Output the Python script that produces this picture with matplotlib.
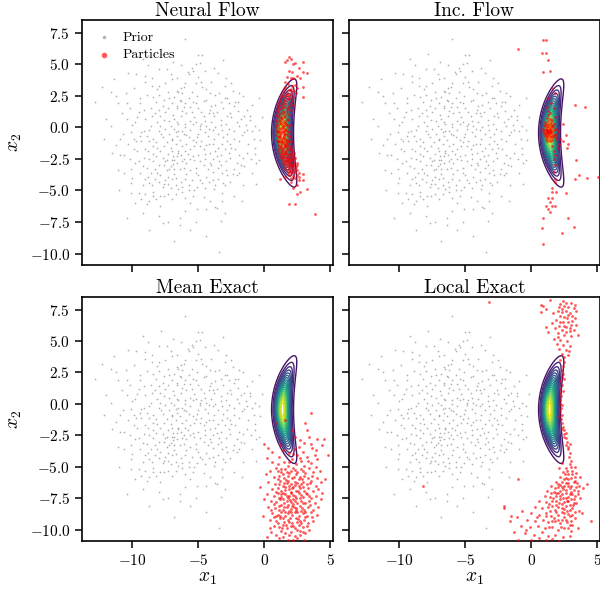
import numpy as np
import matplotlib
matplotlib.use("Agg")
import matplotlib.pyplot as plt

plt.rcParams.update({
    "font.family": "serif",
    "font.serif": ["cmr10"],
    "mathtext.fontset": "cm",
    "axes.formatter.use_mathtext": True,
    "axes.unicode_minus": True,
})

# ---------------------------------------------------------------- data
titles = ["Neural Flow", "Inc. Flow", "Mean Exact", "Local Exact"]

prior_pts = [
    (-9.2,5.4),(-8.0,4.6),(-7.4,4.6),(-9.7,4.2),(-9.0,4.1),(-8.5,3.9),(-11.4,3.8),(-7.5,3.5),(-12.3,3.2),(-8.1,3.0),
    (-6.6,2.9),(-11.2,2.5),(-8.9,2.6),(-9.4,2.3),(-8.0,2.6),(-7.3,2.8),(-7.2,2.3),(-12.8,2.0),(-11.1,1.9),(-10.4,1.9),
    (-9.4,1.9),(-8.2,2.0),(-8.6,1.5),(-10.2,1.5),(-8.0,1.4),(-6.6,1.5),(-9.5,1.2),(-7.5,1.2),(-8.3,1.1),(-10.4,0.7),
    (-9.8,0.4),(-9.0,0.7),(-6.8,0.7),(-7.9,0.1),(-7.1,0.1),(-8.7,-0.2),(-10.1,-0.4),(-8.0,-0.3),(-7.5,-0.1),(-10.7,-0.5),
    (-6.7,-0.4),(-12.1,-0.9),(-9.7,-1.1),(-9.3,-1.1),(-8.4,-0.9),(-7.7,-0.8),(-7.0,-0.9),(-11.2,-1.4),(-9.9,-1.7),(-9.0,-1.7),
    (-8.4,-1.5),(-7.9,-1.9),(-7.1,-1.6),(-6.7,-1.3),(-10.9,-2.2),(-10.6,-2.2),(-9.5,-2.7),(-8.7,-2.5),(-8.2,-2.3),(-7.5,-2.7),
    (-6.8,-2.6),(-10.1,-3.3),(-9.2,-3.1),(-8.3,-3.3),(-7.1,-3.1),(-10.6,-3.6),(-8.8,-3.9),(-7.9,-3.8),(-6.8,-3.7),(-8.7,-4.4),
    (-8.5,-4.6),(-10.1,-4.4),(-7.7,-4.7),(-7.1,-4.8),(-10.1,-5.2),(-9.5,-5.2),(-8.4,-5.4),(-7.9,-5.4),(-7.6,-5.4),(-7.3,-5.3),
    (-9.3,-5.7),(-8.7,-5.8),(-8.2,-5.7),(-10.4,-7.2),(-7.7,-7.6),(-7.3,-7.5),(-8.7,-8.1),
    (-7.8,-0.5),(-7.4,-1.2),(-7.0,-1.9),(-6.9,-2.3),(-7.3,-2.1),(-7.7,-2.4),(-8.0,-3.0),(-7.4,-3.4),(-6.8,-3.3),(-8.4,-2.1),
    (-8.8,-1.9),(-8.9,-0.7),(-9.3,-0.4),(-8.2,-1.2),(-6.5,-2.0),(-6.6,-2.8),(-7.0,-4.1),(-7.5,-4.2),(-8.3,-4.1),(-9.0,-4.1),
    (-6.0,7.0),(-5.0,5.7),(-4.7,5.7),(-3.1,5.3),(-6.3,4.9),(-4.9,5.1),(-5.2,5.0),(-5.5,4.7),(-5.8,4.4),(-5.4,4.5),
    (-5.7,4.2),(-2.9,3.9),(-4.0,3.6),(-6.0,3.5),(-6.1,3.2),(-4.7,3.2),(-4.4,3.0),(-5.2,3.5),(-5.5,2.8),(-6.5,2.8),
    (-6.2,2.7),(-4.1,2.7),(-3.7,2.6),(-3.4,2.7),(-1.9,2.7),(-5.1,2.5),(-5.7,2.3),(-3.0,2.3),(-2.8,2.3),(-0.4,2.3),
    (-6.4,2.2),(-5.4,2.0),(-4.6,2.1),(-2.2,2.0),(-6.6,1.7),(-6.1,1.6),(-5.6,1.6),(-5.0,1.5),(-4.1,1.4),(-3.6,1.2),
    (-4.2,1.1),(-3.9,1.1),(-2.3,1.7),(-6.2,1.3),(-2.8,0.9),(-2.5,0.8),(-1.8,0.7),(-1.1,0.6),(-3.3,0.6),(-5.6,0.5),
    (-5.2,0.4),(-4.5,0.5),(-4.9,0.1),(-6.0,0.3),(-6.5,0.3),(-1.4,0.2),(-0.7,0.1),(-3.7,0.0),(-4.2,-0.1),(-3.2,-0.2),
    (-2.7,-0.1),(-2.3,-0.3),(-0.4,-0.2),(-1.5,-0.4),(-4.5,-0.4),(-6.1,-0.5),(-6.6,-0.7),(-5.7,-0.8),(-5.1,-0.8),(-3.8,-0.9),
    (-0.8,-0.9),(-2.8,-1.1),(-1.9,-1.1),(-5.2,-1.2),(-4.2,-1.3),(-2.6,-1.3),(-6.2,-1.5),(-4.9,-1.5),(-3.5,-1.6),(-0.7,-1.6),
    (-6.5,-1.9),(-5.6,-1.7),(-3.0,-1.7),(-0.7,-2.1),(-5.4,-2.3),(-4.5,-2.1),(-3.6,-2.3),(-1.6,-2.4),(-2.6,-2.4),(-0.4,-2.6),
    (-0.6,-2.8),(-6.2,-2.7),(-5.9,-2.8),(-4.9,-2.7),(-4.1,-2.8),(-3.5,-3.2),(-2.1,-2.8),(-6.4,-3.3),(-5.6,-3.4),(-5.2,-3.6),
    (-4.3,-3.3),(-2.4,-3.7),(-1.9,-3.6),(-2.1,-3.8),(-3.2,-3.6),(-6.7,-4.0),(-6.0,-4.1),(-4.9,-4.2),(-4.7,-4.4),(-3.5,-4.1),
    (-3.1,-4.4),(-5.7,-4.6),(-3.7,-4.6),(-3.0,-4.6),(-6.2,-4.7),(-6.5,-4.9),(-3.8,-4.9),(-5.7,-5.0),(-5.3,-5.0),(-3.2,-5.2),
    (-6.0,-5.6),(-4.1,-5.8),(-3.2,-5.8),(-3.7,-6.3),(-3.6,-6.4),(-6.0,-6.6),(-5.1,-6.5),(-6.4,-7.2),(-3.3,-7.4),(-6.4,-7.7),
    (-3.4,-9.9),
    (-6.3,0.9),(-5.9,1.1),(-5.3,0.8),(-4.6,0.9),(-4.0,0.4),(-3.5,-0.5),(-6.8,-0.1),(-6.2,-0.3),(-5.6,-0.2),(-5.0,-0.5),
    (-4.8,0.3),(-4.3,-0.7),(-3.9,-1.3),(-3.1,-0.8),(-2.9,0.3),(-6.9,1.0),(-7.2,0.5),(-7.6,0.6),(-8.1,0.4),(-8.5,0.9),
    (-9.1,-0.3),(-7.0,-1.0),(-6.4,-1.0),(-5.9,-1.3),(-5.4,-1.0),(-4.6,-1.7),(-4.1,-2.0),(-3.3,-2.2),(-2.9,-2.7),(-5.8,-2.1),
    (-6.3,-2.2),(-6.9,-2.9),(-7.2,-3.3),(-6.1,-3.2),(-5.3,-2.6),(-4.6,-3.0),(-3.9,-3.5),(-4.4,-3.9),(-5.0,-3.8),(-5.5,-4.2),
    (-6.3,-4.3),(-7.3,-3.9),(-8.0,-4.3),(-8.6,-3.6),(-9.1,-2.4),(-9.6,-1.9),(-9.9,-0.9),(-10.3,-1.3),(-8.6,0.1),(-7.7,1.7),
    (-7.0,1.9),(-6.3,2.1),(-5.2,1.9),(-4.4,2.2),(-3.7,1.8),(-3.1,1.5),(-2.6,1.1),(-2.1,0.4),(-1.7,-0.6),(-2.2,-1.7),
    (-2.7,-2.0),(-1.2,-1.3),(-1.0,-2.5),(-1.5,-3.1),(-2.6,-4.3),(-4.2,-4.3),(-5.1,-4.7),(-7.6,-4.5),(-8.4,-5.1),(-9.0,-5.3),
    (-6.7,-5.3),(-4.6,-5.5),(-10.9,-0.9),(-11.6,0.1),(-10.8,1.1),(-10.5,2.7),(-9.9,3.1),(-8.5,3.3),(-7.0,3.8),(-6.6,3.9),
    (-5.0,4.0),(-3.5,4.3),(-2.4,2.9),(-1.3,1.4),(-0.9,-0.3),(-6.0,-1.9),(-4.9,-0.1),(-3.8,0.9),(-7.4,-2.6),(-8.4,-2.7),
    (-7.9,0.9),(-7.3,1.5),(-6.6,0.4),(-6.0,0.0),(-5.4,0.3),(-4.4,0.1),(-3.9,-0.2),(-3.3,0.2),(-2.8,-0.5),(-2.3,-0.9),
    (-1.9,0.1),(-1.5,0.9),(-2.0,1.3),(-2.7,1.9),(-3.3,2.0),(-4.0,1.7),(-4.8,1.2),(-5.5,1.2),(-6.0,1.9),(-6.8,2.4),
    (-7.6,2.2),(-8.4,2.4),(-9.1,1.4),(-9.6,0.8),(-10.0,0.2),(-9.4,-0.7),(-8.7,-1.1),(-8.1,-1.6),(-7.6,-1.5),(-7.2,-0.5),
    (-6.5,-0.3),(-5.9,-0.6),(-5.3,-1.5),(-4.8,-1.1),(-4.4,-1.4),(-3.7,-1.9),(-3.2,-1.3),(-2.5,-1.6),(-1.9,-2.2),(-1.3,-2.0),
    (-1.8,-3.0),(-2.3,-3.3),(-2.9,-3.4),(-3.4,-2.7),(-3.9,-2.5),(-4.5,-2.5),(-5.0,-2.2),(-5.6,-2.5),(-6.1,-2.5),(-6.6,-2.3),
    (-7.0,-2.6),(-7.6,-3.0),(-8.1,-3.6),(-8.9,-3.2),(-9.4,-3.6),(-9.8,-2.8),(-10.2,-2.5),(-9.2,-4.6),(-7.3,-4.5),(-6.7,-4.6),
    (-5.9,-3.7),(-5.2,-3.2),(-4.0,-3.0),(-3.3,-3.0),(-2.8,-3.8),(-3.9,-4.2),(-4.5,-4.8),(-5.4,-5.4),(-6.2,-5.1),(-7.0,-5.7),
    (-7.9,-6.2),(-8.9,-6.1),(-9.8,-6.0),(-5.6,-6.0),(-4.4,-6.5),(-2.3,-5.4),(-1.6,-4.6),(-0.9,-3.6),(-0.3,-1.0),(-0.2,0.8),
    (-0.9,1.8),(-1.6,2.5),(-2.5,3.5),(-3.8,4.7),(-4.5,4.5),(-6.9,5.2),(-7.8,5.8),(-8.8,4.9),(-10.3,4.3),(-11.6,2.8),
    (-12.0,0.7),(-11.5,-2.0),(-11.1,-3.4),(-10.0,-4.0),(-11.0,-5.0),(-9.2,-6.8),(-8.0,-7.0),(-5.2,-7.5),(-4.4,-8.6),(-6.8,-9.0),
    (-5.6,-8.1),(-3.0,-6.8),(-1.7,-5.8),(-0.6,-4.5),(-6.3,3.1),(-7.1,4.2),(-8.0,3.3),(-9.0,3.6),(-4.8,3.6),(-3.0,3.3),
    (-2.0,2.0),(-1.3,-0.2),(-1.1,0.9),
]

neural_flow_pts = [
    (1.9,5.6),(1.7,5.3),(2.0,5.4),(2.2,5.0),(2.3,5.1),(2.9,5.2),(1.6,5.2),(2.6,4.7),(1.9,4.5),(2.1,4.4),
    (2.9,4.4),(3.2,4.3),(2.5,4.1),(2.7,3.9),(1.7,4.0),(2.0,3.9),(2.2,3.9),(1.6,3.6),(2.9,3.2),(2.9,2.4),
    (1.2,-4.1),(2.0,-4.3),(2.6,-4.2),(2.9,-4.2),(2.5,-4.6),(2.7,-5.1),(2.5,-5.3),(3.2,-4.9),(1.9,-6.1),(2.3,-6.1),
    (3.8,-6.9),(2.2,-4.8),(1.6,-3.9),(2.9,-3.7),
    (1.8,3.45),(2.3,3.35),(1.6,3.2),(2.1,3.25),(2.5,3.1),(1.5,3.0),(1.9,2.95),(2.25,2.9),(1.4,2.8),(1.75,2.75),
    (2.05,2.85),(2.4,2.7),(1.3,2.6),(1.7,2.55),(2.0,2.65),(1.25,2.4),(1.55,2.45),(1.85,2.35),(2.2,2.4),(1.2,2.2),
    (1.5,2.15),(1.8,2.25),(2.1,2.1),(1.1,2.0),(1.4,1.95),(1.65,2.05),(1.95,1.9),
    (1.05,1.8),(1.3,1.75),(1.6,1.85),(1.9,1.7),(2.2,1.8),(1.0,1.6),(1.35,1.55),(1.55,1.65),(1.8,1.5),(0.95,1.4),
    (1.2,1.45),(1.45,1.3),(1.7,1.4),(2.0,1.35),(1.05,1.2),(1.3,1.15),(1.5,1.25),(1.75,1.1),(0.9,1.0),(1.15,0.95),
    (1.4,1.05),(1.6,0.9),(1.9,1.0),(1.0,0.8),(1.25,0.75),(1.5,0.85),(1.75,0.7),(0.85,0.6),(1.1,0.55),(1.35,0.65),
    (1.55,0.5),(1.8,0.6),(0.95,0.4),(1.2,0.35),(1.45,0.45),(1.65,0.3),(0.85,0.2),(1.05,0.15),(1.3,0.25),(1.5,0.1),
    (1.7,0.2),(1.95,0.15),(0.9,0.0),(1.15,-0.05),(1.35,0.05),
    (1.55,-0.1),(1.8,0.0),(0.85,-0.2),(1.0,-0.25),(1.25,-0.15),(1.45,-0.3),(1.65,-0.2),(1.9,-0.25),(0.95,-0.4),(1.15,-0.45),
    (1.4,-0.35),(1.6,-0.5),(1.8,-0.4),(0.9,-0.6),(1.1,-0.65),(1.3,-0.55),(1.5,-0.7),(1.7,-0.6),(1.95,-0.65),(1.0,-0.8),
    (1.2,-0.85),(1.4,-0.75),(1.6,-0.9),(1.85,-0.8),(0.95,-1.0),(1.15,-1.05),(1.35,-0.95),(1.55,-1.1),(1.75,-1.0),(2.0,-1.05),
    (1.05,-1.2),(1.25,-1.25),(1.45,-1.15),(1.65,-1.3),(1.9,-1.2),(1.0,-1.4),(1.2,-1.45),(1.4,-1.35),(1.6,-1.5),(1.8,-1.4),
    (2.05,-1.45),(1.1,-1.6),(1.3,-1.65),(1.5,-1.55),(1.7,-1.7),(1.95,-1.6),(1.05,-1.8),(1.25,-1.85),(1.45,-1.75),(1.65,-1.9),
    (1.85,-1.8),(2.1,-1.85),
    (1.15,-2.0),(1.35,-2.05),(1.55,-1.95),(1.75,-2.1),(2.0,-2.0),(2.25,-2.05),(1.2,-2.2),(1.4,-2.25),(1.6,-2.15),(1.8,-2.3),
    (2.05,-2.2),(1.25,-2.4),(1.45,-2.45),(1.65,-2.35),(1.85,-2.5),(2.1,-2.4),(2.35,-2.45),(1.35,-2.6),(1.55,-2.65),(1.75,-2.55),
    (1.95,-2.7),(2.2,-2.6),(1.4,-2.8),(1.6,-2.85),(1.8,-2.75),(2.0,-2.9),(2.25,-2.8),(2.5,-2.85),(1.5,-3.0),(1.75,-3.05),
    (1.95,-2.95),(2.2,-3.1),(2.45,-3.0),(1.6,-3.2),(1.85,-3.25),(2.1,-3.15),(2.35,-3.3),(1.7,-3.4),(1.95,-3.45),(2.2,-3.35),
    (2.5,-3.4),(1.8,-3.6),(2.05,-3.65),(2.3,-3.55),(2.6,-3.6),(1.9,-3.8),(2.2,-3.85),(2.45,-3.75),(2.0,-4.0),(2.3,-4.05),
    (2.6,-3.95),
    (1.3,-0.4),(1.5,-0.85),(1.25,-1.5),(1.7,-1.15),(1.45,-2.1),(1.9,-2.45),(1.7,-2.9),(1.55,-1.3),(1.35,-1.75),(2.0,-1.7),
    (1.6,-2.55),(1.85,-3.1),(1.2,0.5),(1.4,0.15),(1.6,-0.3),
    (1.35,-1.05),(1.55,-1.45),(1.75,-1.55),(1.4,-1.9),(1.6,-2.0),(1.85,-2.15),(1.5,-2.35),(1.75,-2.45),(2.0,-2.55),(1.7,-2.7),
    (1.95,-2.85),(2.15,-2.95),(1.9,-3.35),(2.1,-3.55),(1.25,-1.1),(1.5,-0.55),(1.2,-0.7),(1.45,-0.05),(1.6,0.35),(1.3,0.85),
    (1.45,1.6),(1.7,2.3),(1.9,2.6),(2.0,3.05),(1.15,-0.3),(1.0,-1.1),(1.8,-1.1),(2.2,-2.3),(2.4,-3.15),(1.3,-2.25),
]

inc_flow_pts = [
    (0.9,6.9),(1.1,6.9),(-1.0,6.2),(0.8,5.9),(1.1,5.9),(1.3,5.3),(1.4,4.5),(0.9,4.4),(1.6,3.1),(1.8,2.7),
    (1.3,2.3),(1.2,1.6),(1.7,1.5),(1.4,1.1),(1.8,0.8),(3.3,1.75),(4.1,1.6),(2.4,0.3),(2.6,-0.6),(2.8,-1.3),
    (2.7,-1.6),(3.4,-2.6),(3.6,-3.8),(3.3,-4.1),(4.2,-4.0),(5.05,-3.9),(2.6,-5.2),(1.7,-2.5),(1.8,-3.0),(1.7,-3.5),
    (1.8,-4.1),(1.8,-4.3),(1.6,-4.8),(1.6,-5.1),(1.9,-5.1),(1.3,-5.6),(1.6,-5.6),(1.4,-5.9),(1.1,-6.2),(1.6,-6.2),
    (1.8,-6.2),(1.3,-6.5),(1.4,-6.7),(0.9,-7.2),(2.8,-7.2),(0.8,-8.0),(3.2,-7.9),(2.3,-8.4),(0.9,-9.2),
    (1.6,-1.5),(1.7,-1.9),(1.8,-2.2),(2.2,-0.9),(2.4,-1.1),(2.1,-1.3),(1.9,-0.7),(2.0,-1.6),
    (1.3,-0.3),(1.2,-0.2),(1.4,-0.4),(1.1,-0.35),(1.5,-0.25),(1.25,-0.5),(1.35,-0.1),(1.0,-0.2),(1.6,-0.4),(1.2,0.0),
    (1.45,0.05),(1.3,-0.65),(1.15,-0.6),(1.55,-0.6),(0.95,-0.45),(1.7,-0.2),(1.05,0.1),(1.4,0.25),(1.25,0.3),(1.6,0.1),
    (0.9,-0.1),(1.8,-0.5),(1.5,-0.8),(1.2,-0.8),(1.0,-0.7),(1.35,-0.9),(1.65,-0.75),(1.1,0.3),(1.5,0.4),(1.3,0.5),
    (1.75,0.3),(0.95,0.2),(1.85,-0.1),(1.4,-1.1),(1.6,-1.0),(1.2,-1.05),(1.9,-0.9),(1.3,-0.35),(1.2,-0.45),(1.4,-0.2),
    (1.35,-0.55),(1.15,-0.1),(1.45,-0.45),(1.25,-0.25),(1.5,-0.1),(1.05,-0.5),(1.55,0.2),(1.3,0.1),(1.7,-0.6),(0.85,-0.3),
    (1.28,-0.2),(1.38,-0.35),(1.22,-0.38),(1.45,-0.65),(1.1,-0.9),(1.65,0.0),(2.0,-0.3),(1.05,0.45),(1.4,0.7),(1.2,0.75),
    (1.6,0.6),(1.3,1.3),(1.5,1.9),(1.25,0.95),
]

mean_exact_pts = [
    (3.5,-0.7),(0.9,-1.5),(3.1,-1.5),(3.2,-2.05),(3.4,-2.6),(4.0,-2.8),(4.5,-2.8),(0.0,-3.2),(1.6,-1.3),(2.1,-2.1),
    (2.3,-2.6),(2.7,-2.9),
    (1.2,-3.3),(2.6,-3.4),(3.0,-3.1),(3.6,-3.5),(0.6,-3.8),(1.9,-3.9),(2.9,-3.8),(3.9,-3.7),(4.4,-3.3),(2.3,-3.6),
    (0.3,-3.5),
    (0.2,-4.3),(1.1,-4.2),(1.5,-4.6),(2.1,-4.4),(2.5,-4.1),(2.8,-4.5),(3.2,-4.2),(3.5,-4.7),(4.0,-4.4),(1.0,-4.8),
    (1.8,-4.9),(2.4,-4.8),(3.0,-4.9),(3.9,-5.0),(4.8,-4.1),(0.6,-4.6),(2.7,-4.3),
    (0.4,-5.3),(0.9,-5.1),(1.3,-5.4),(1.6,-5.2),(1.9,-5.5),(2.2,-5.1),(2.5,-5.4),(2.8,-5.2),(3.1,-5.5),(3.4,-5.1),
    (3.7,-5.4),(4.2,-5.3),(0.7,-5.8),(1.1,-5.7),(1.5,-5.9),(1.8,-5.7),(2.1,-5.9),(2.4,-5.6),(2.7,-5.8),(3.0,-5.7),
    (3.3,-5.9),(3.6,-5.7),(4.0,-5.9),(1.4,-5.6),(2.0,-5.3),(2.6,-6.0),(0.1,-5.6),
    (0.3,-6.2),(0.8,-6.4),(1.2,-6.1),(1.5,-6.3),(1.8,-6.1),(2.0,-6.4),(2.3,-6.2),(2.6,-6.5),(2.9,-6.2),(3.2,-6.4),
    (3.5,-6.1),(3.9,-6.5),(4.3,-6.2),(0.6,-6.8),(1.0,-6.7),(1.3,-6.9),(1.6,-6.6),(1.9,-6.8),(2.2,-6.6),(2.4,-6.9),
    (2.7,-6.7),(3.0,-6.9),(3.3,-6.7),(3.7,-6.9),(4.1,-6.8),(1.7,-6.3),(2.1,-6.7),(2.8,-6.4),(1.4,-6.5),(2.5,-6.3),
    (-0.3,-6.6),
    (0.2,-7.2),(0.7,-7.3),(1.0,-7.1),(1.3,-7.4),(1.6,-7.2),(1.8,-7.5),(2.0,-7.1),(2.3,-7.3),(2.6,-7.1),(2.9,-7.4),
    (3.2,-7.2),(3.5,-7.5),(3.9,-7.3),(0.5,-7.7),(0.9,-7.8),(1.2,-7.6),(1.5,-7.9),(1.7,-7.7),(2.0,-7.8),(2.2,-7.6),
    (2.5,-7.9),(2.8,-7.7),(3.1,-7.9),(3.4,-7.7),(3.8,-7.9),(1.9,-7.3),(2.4,-7.5),(1.4,-7.1),(2.7,-7.5),(1.1,-7.45),
    (2.15,-7.95),(4.3,-7.6),
    (0.3,-8.2),(0.8,-8.3),(1.1,-8.1),(1.4,-8.4),(1.7,-8.2),(1.9,-8.5),(2.1,-8.1),(2.4,-8.3),(2.7,-8.1),(3.0,-8.4),
    (3.3,-8.2),(3.7,-8.4),(0.6,-8.7),(1.0,-8.8),(1.3,-8.6),(1.6,-8.9),(1.8,-8.7),(2.1,-8.8),(2.3,-8.6),(2.6,-8.9),
    (2.9,-8.7),(3.2,-8.9),(3.5,-8.6),(4.0,-8.8),(1.5,-8.2),(2.0,-8.35),(2.5,-8.6),(1.2,-8.95),
    (0.4,-9.2),(0.9,-9.3),(1.2,-9.1),(1.5,-9.4),(1.8,-9.2),(2.1,-9.5),(2.4,-9.1),(2.7,-9.3),(3.0,-9.2),(3.3,-9.5),
    (3.7,-9.3),(0.7,-9.7),(1.1,-9.8),(1.4,-9.6),(1.7,-9.9),(2.0,-9.7),(2.3,-9.9),(2.6,-9.6),(2.9,-9.8),(3.2,-9.7),
    (1.9,-9.35),(2.5,-9.4),
    (0.5,-10.2),(0.9,-10.4),(1.3,-10.1),(1.6,-10.3),(2.0,-10.2),(2.3,-10.5),(2.7,-10.1),(3.1,-10.3),(1.1,-10.7),(1.8,-10.8),
    (2.5,-10.7),(3.0,-10.8),(0.2,-10.6),(1.45,-10.55),(2.2,-10.85),
    (1.25,-5.15),(1.75,-5.45),(2.35,-5.25),(2.95,-5.35),(1.05,-6.0),(1.65,-6.05),(2.25,-5.85),(2.85,-6.0),(3.45,-6.3),(1.15,-6.35),
    (1.85,-6.55),(2.35,-6.45),(2.95,-6.6),(1.55,-6.85),(2.05,-7.0),(2.55,-6.95),(3.15,-7.05),(0.85,-7.0),(1.25,-7.2),(1.75,-7.35),
    (2.15,-7.25),(2.75,-7.25),(3.35,-7.35),(1.45,-7.6),(1.95,-7.65),(2.35,-7.75),(2.9,-7.85),(0.75,-7.95),(1.25,-8.05),(1.8,-8.05),
    (2.25,-8.2),(2.85,-8.25),(3.45,-8.05),(1.15,-8.45),(1.55,-8.6),(2.0,-8.6),(2.4,-8.45),(2.75,-8.5),(3.1,-8.6),(0.9,-8.95),
    (1.45,-9.1),(1.95,-9.05),(2.55,-9.15),(3.1,-9.0),(1.05,-9.5),(1.65,-9.6),(2.2,-9.7),(2.8,-9.5),(1.35,-9.9),(2.45,-10.0),
    (1.9,-10.45),(2.7,-10.45),(0.7,-9.0),(0.5,-8.4),(3.6,-9.0),(4.1,-8.2),(4.4,-7.1),(4.6,-6.0),(0.0,-7.6),(-0.1,-8.9),
    (1.0,-5.35),(1.9,-4.6),(3.3,-4.5),(2.2,-4.0),(1.4,-3.7),(3.8,-4.1),(3.5,-3.2),(2.9,-10.2),(3.4,-10.0),(0.4,-9.9),
]

local_exact_pts = [
    (-3.2,8.1),(-8.2,-6.5),(-1.0,-6.0),(-2.1,-8.1),
    (1.4,8.3),(2.4,8.2),(3.0,8.0),(0.7,7.9),(0.9,7.8),(0.7,7.3),(2.1,7.7),(2.5,7.8),(2.8,7.7),(3.2,7.6),
    (3.4,7.4),(2.0,7.4),(2.3,7.3),(2.6,7.4),(2.9,7.2),(3.1,7.0),(2.2,7.0),(2.5,6.9),(2.7,6.8),(3.3,6.8),
    (1.9,6.7),(2.4,6.5),(2.8,6.5),(3.0,6.3),(2.1,6.2),(2.6,6.1),(1.1,6.1),(1.6,6.4),(2.3,5.9),(2.9,5.8),
    (1.3,5.7),(2.0,5.6),(2.5,5.5),(3.0,5.4),(3.5,5.5),(1.7,5.2),(2.2,5.1),(2.7,5.0),(2.4,4.7),(2.9,4.6),
    (2.1,4.4),(2.6,4.3),(2.3,4.0),(2.8,3.9),(2.5,3.7),(2.2,3.5),(3.1,6.6),(2.35,7.55),(2.75,7.05),(1.8,6.0),
    (2.65,5.7),(3.2,5.9),(2.45,6.2),(2.0,5.3),(2.85,4.2),(1.95,4.8),(3.3,7.9),(2.2,7.95),(1.1,7.55),(2.6,8.05),
    (1.65,7.2),(2.9,6.05),(3.4,6.3),(2.15,6.55),
    (2.5,3.3),(2.4,3.0),(2.3,2.7),(2.4,2.4),(2.3,2.1),(2.2,1.8),(2.3,1.5),(2.2,1.2),(2.15,0.9),(2.25,0.6),
    (2.2,0.3),(2.15,0.0),(2.25,-0.3),(2.2,-0.6),(2.3,-0.9),(2.25,-1.2),(2.35,-1.5),(2.4,-1.8),(2.5,-2.1),(2.45,-2.4),
    (2.6,-2.7),(2.7,-3.0),(2.65,-3.3),(2.8,-3.6),(2.9,-3.9),(2.85,-4.2),(3.0,-4.5),(2.1,-1.0),(2.3,-2.0),(2.5,-2.6),
    (2.75,-3.4),(2.4,1.0),(2.3,-0.1),(2.5,2.0),(2.6,-2.3),(2.95,-3.2),
    (2.3,-4.7),(2.9,-4.8),(3.3,-5.0),(2.6,-5.1),(3.1,-5.3),(2.4,-5.4),(2.8,-5.6),(3.4,-5.5),(2.2,-5.8),(2.6,-5.9),
    (3.0,-5.9),(3.7,-5.8),(1.9,-6.2),(2.3,-6.2),(2.8,-6.3),(3.2,-6.2),(1.5,-6.5),(2.0,-6.6),(2.5,-6.5),(2.9,-6.7),
    (3.4,-6.6),(3.9,-6.7),(1.2,-6.9),(1.7,-7.0),(2.2,-6.9),(2.6,-7.1),(3.0,-7.0),(3.5,-7.2),(1.0,-7.3),(1.4,-7.4),
    (1.9,-7.3),(2.4,-7.5),(2.8,-7.4),(3.2,-7.6),(3.7,-7.5),(0.6,-7.7),(1.1,-7.8),(1.6,-7.7),(2.1,-7.9),(2.5,-7.8),
    (2.9,-8.0),(3.4,-7.9),(0.3,-8.2),(0.8,-8.3),(1.3,-8.2),(1.8,-8.4),(2.3,-8.3),(2.7,-8.5),(3.1,-8.3),(3.6,-8.5),
    (0.0,-8.7),(0.6,-8.8),(1.1,-8.7),(1.5,-8.9),(2.0,-8.8),(2.5,-9.0),(2.9,-8.9),(3.3,-9.1),(-0.3,-9.2),(0.3,-9.3),
    (0.9,-9.2),(1.3,-9.4),(1.8,-9.3),(2.2,-9.5),(2.7,-9.4),(3.1,-9.6),(-0.8,-9.7),(-0.1,-9.8),(0.5,-9.7),(1.0,-9.9),
    (1.6,-9.8),(2.0,-10.0),(2.5,-9.9),(3.0,-10.1),(-1.3,-10.2),(-0.5,-10.3),(0.2,-10.4),(0.8,-10.2),(1.3,-10.5),(1.8,-10.4),
    (2.4,-10.6),(2.9,-10.5),(-1.0,-10.8),(0.0,-10.8),(0.6,-10.7),(1.1,-10.85),(1.6,-10.75),(2.1,-10.9),(-2.1,-8.3),(-1.6,-9.3),
    (-1.5,-8.9),(-0.7,-8.5),(-1.1,-9.0),(4.5,-9.3),(4.2,-6.4),(3.8,-8.7),(2.0,-7.1),(2.4,-6.8),(2.7,-7.7),(3.1,-7.2),
    (2.6,-8.1),(2.2,-7.6),(3.3,-8.6),(1.5,-7.1),(2.8,-6.0),(3.0,-6.5),(2.45,-8.7),(1.85,-8.0),(2.15,-6.45),(3.55,-6.95),
    (1.75,-9.05),(2.35,-9.2),(0.4,-9.0),(-0.4,-10.0),(2.65,-6.85),(3.25,-7.85),(1.35,-7.95),(2.9,-9.6),(3.5,-9.9),
    (2.55,-5.6),(3.05,-5.6),(2.45,-6.0),(3.3,-5.85),(2.05,-6.35),(2.6,-6.3),(3.45,-6.3),(1.8,-6.7),(2.3,-6.6),(2.75,-6.55),
    (3.2,-6.85),(1.9,-7.1),(2.35,-7.15),(2.9,-7.2),(3.3,-7.35),(1.65,-7.45),(2.15,-7.35),(2.6,-7.45),(3.0,-7.6),(1.9,-7.7),
    (2.35,-7.95),(2.8,-7.75),(3.15,-8.05),(1.6,-8.1),(2.05,-8.2),(2.5,-8.35),(2.95,-8.45),(1.45,-8.55),(1.9,-8.6),(2.3,-8.6),
    (2.75,-8.75),(3.1,-8.8),(1.1,-8.95),(1.55,-9.3),(2.05,-9.25),(2.6,-9.2),(3.0,-9.3),(1.35,-9.75),(2.25,-9.8),(2.8,-9.85),
    (3.3,-6.1),(2.7,-5.35),(2.1,-5.1),(3.0,-5.0),(3.6,-6.55),
]

particle_sets = [neural_flow_pts, inc_flow_pts, mean_exact_pts, local_exact_pts]

# banana-shaped target density parameters
target_center = 1.38    # x1 location of the ridge at its midpoint
target_bend = 0.048     # curvature of the ridge
target_width = 0.34     # spread across the ridge
target_mid = -0.45      # x2 location of the mode
target_spread = 1.75    # spread along the ridge

# ---------------------------------------------------------------- figure
fig = plt.figure(figsize=(6.0, 5.92), dpi=100)
W, H = 600.0, 592.0
boxes = [(82, 20, 251, 245), (349, 20, 251, 245),
         (82, 297, 251, 244), (349, 297, 251, 244)]
axes = []
for i, (l, t, w, h) in enumerate(boxes):
    kw = {}
    if axes:
        kw = dict(sharex=axes[0], sharey=axes[0])
    ax = fig.add_axes([l / W, 1 - (t + h) / H, w / W, h / H], **kw)
    axes.append(ax)

g1 = np.linspace(-1.0, 5.0, 400)
g2 = np.linspace(-7.5, 6.5, 500)
X1, X2 = np.meshgrid(g1, g2)
U = X2 - target_mid
Z = np.exp(-0.5 * (U / target_spread) ** 2
           - 0.5 * ((X1 - target_center - target_bend * U ** 2) / target_width) ** 2)

prior = np.array(prior_pts)
for ax, title, pts in zip(axes, titles, particle_sets):
    pts = np.array(pts)
    ax.scatter(prior[:, 0], prior[:, 1], s=1.6, color="gray", alpha=0.6,
               linewidths=0, label="Prior", zorder=1)
    ax.contour(X1, X2, Z, levels=20, cmap="viridis", linewidths=1.0, zorder=2)
    ax.scatter(pts[:, 0], pts[:, 1], s=4, color="red", alpha=0.65,
               linewidths=0, label="Particles", zorder=3)
    ax.set_title(title, fontsize=14, pad=2)
    for sp in ax.spines.values():
        sp.set_linewidth(1.2)
    ax.tick_params(direction="out", length=5, width=1.1, labelsize=11)

axes[0].set_xlim(-13.8, 5.2)
axes[0].set_ylim(-10.9, 8.5)
axes[0].set_xticks([-10, -5, 0, 5])
axes[0].set_yticks([7.5, 5.0, 2.5, 0.0, -2.5, -5.0, -7.5, -10.0])

for ax in axes[:2]:
    ax.tick_params(labelbottom=False)
for ax in (axes[1], axes[3]):
    ax.tick_params(labelleft=False)
for ax in (axes[0], axes[2]):
    ax.set_ylabel("$x_2$", fontsize=14, labelpad=4)
for ax in (axes[2], axes[3]):
    ax.set_xlabel("$x_1$", fontsize=14, labelpad=1)

axes[0].legend(loc="upper left", frameon=False, fontsize=10, markerscale=2,
               handletextpad=0.5, borderaxespad=0.4, labelspacing=0.35,
               handlelength=1.6)

fig.savefig("out.png", dpi=100)
